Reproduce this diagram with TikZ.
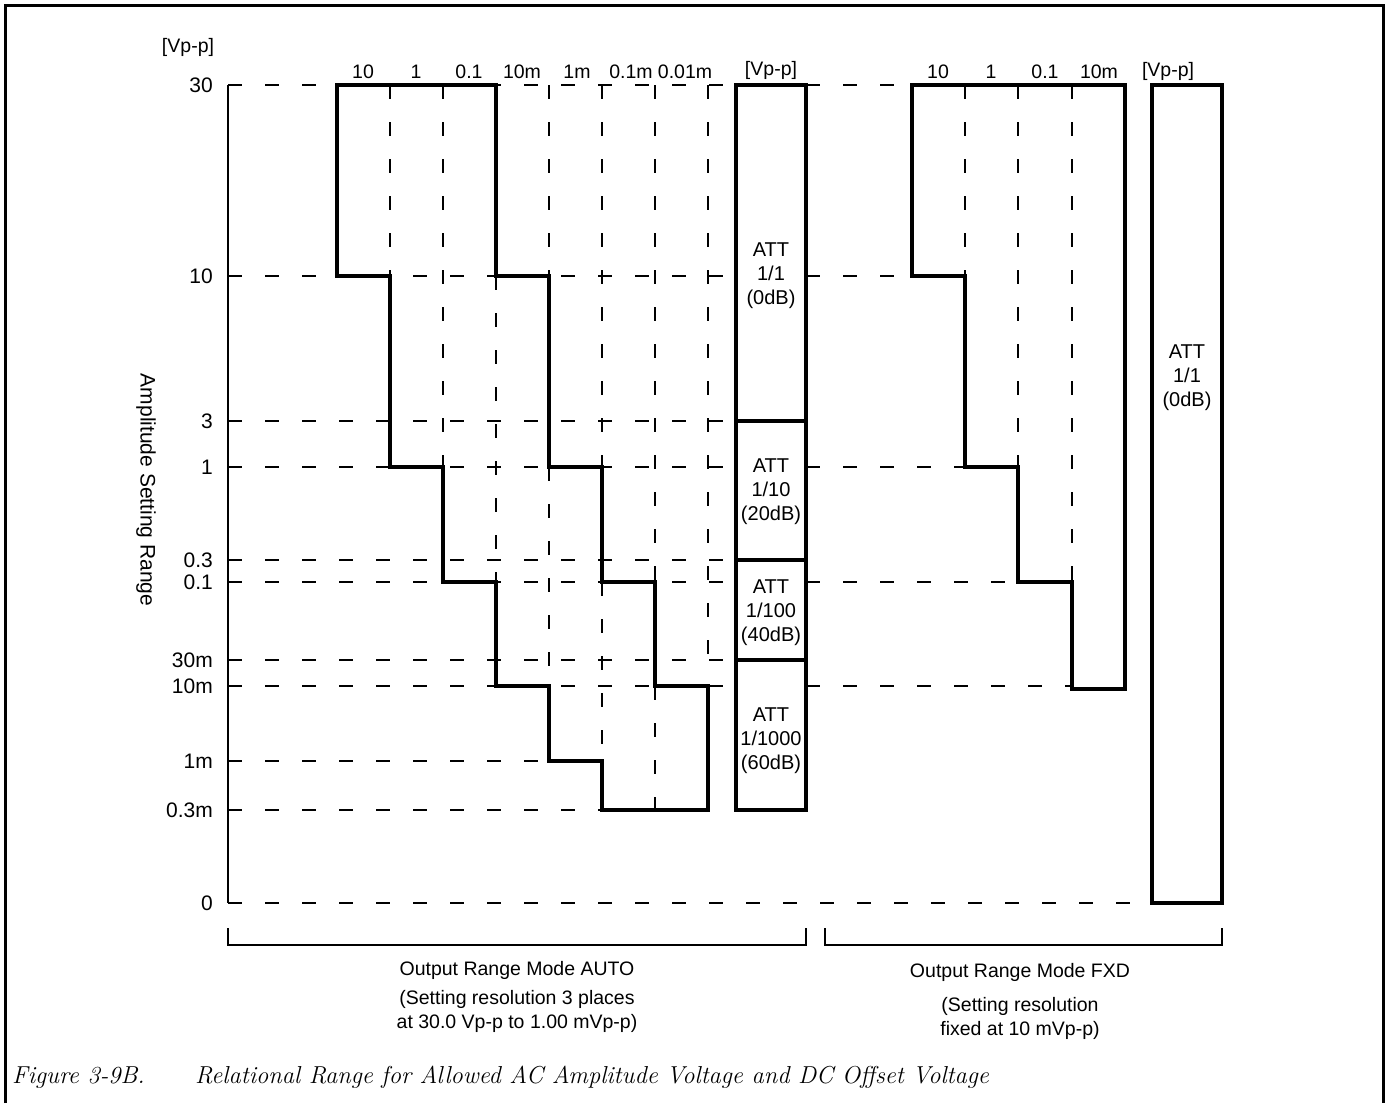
\documentclass[tikz,border=0pt]{standalone}
\usepackage{fontspec}
\setsansfont{Liberation Sans}
\usepackage{tikz}

\begin{document}
\begin{tikzpicture}[x=1pt,y=-1pt,
  every node/.style={font=\sffamily\fontsize{19.5}{24}\selectfont,inner sep=0pt},
  lvl/.style={anchor=east,font=\sffamily\fontsize{21}{24}\selectfont},
  att/.style={align=center,font=\sffamily\fontsize{20}{24}\selectfont},
  note/.style={align=center},
  figcap/.style={font=\itshape\fontsize{24.5}{28}\selectfont,anchor=base west},
  grid/.style={line width=1.5pt,dash pattern=on 14pt off 23pt},
  stair/.style={line width=3.3pt},
  attbox/.style={line width=3.3pt},
  axisline/.style={line width=1.6pt},
  brack/.style={line width=1.4pt}
]
\def\xax{228}                                 % x of the amplitude axis
\def\xbl{736}\def\xbr{806}                    % AUTO attenuator column
\def\xfl{1152}\def\xfr{1222}                  % FXD attenuator column
\useasboundingbox (0,0) rectangle (1386,1103);
\draw[line width=3pt] (5,1103) -- (5,5) -- (1383,5) -- (1383,1103);

% amplitude levels
\foreach \t/\y [count=\i] in {30/85,10/276,3/421,1/467,0.3/560,0.1/582,
                              30m/660,10m/686,1m/761,0.3m/810,0/903}{
  \node[lvl] (lv\i) at (213,\y) {\t};
}
\node (unitA) at (188,47) {[Vp-p]};
\node[rotate=-90,font=\sffamily\fontsize{21}{24}\selectfont] (ytitle) at (146,490) {Amplitude Setting Range};
\draw[axisline] (\xax,85) -- (\xax,903);

% dashed grid
\foreach \y/\xe in {85/\xbl,276/\xbl,421/\xbl,467/\xbl,560/\xbl,582/\xbl,
                    660/\xbl,686/\xbl,761/549,810/602,903/\xfl}{
  \draw[grid] (\xax,\y) -- (\xe,\y);
}
\foreach \y/\xe in {85/912,276/912,467/965,582/1018,686/1072}{
  \draw[grid] (\xbr,\y) -- (\xe,\y);
}
\foreach \x/\ya/\yb in {390/85/276,443/85/467,496/276/582,549/85/276,549/467/686,
                        602/85/467,602/582/761,655/85/582,655/686/810,708/85/660,
                        965/85/276,1018/85/467,1072/85/582}{
  \draw[grid] (\x,\ya) -- (\x,\yb);
}

% column headings
\foreach \t/\x [count=\i] in {10/363,1/416,0.1/469,10m/522,1m/577,0.1m/631,0.01m/685}{
  \node (ca\i) at (\x,72) {\t};
}
\foreach \t/\x [count=\i] in {10/938,1/991,0.1/1045,10m/1099}{
  \node (cf\i) at (\x,72) {\t};
}
\node (unitB) at (771,70) {[Vp-p]};
\node (unitC) at (1168,71) {[Vp-p]};

% setting ranges
\draw[stair] (337,85) -- (496,85) -- (496,276) -- (549,276) -- (549,467) -- (602,467)
  -- (602,582) -- (655,582) -- (655,686) -- (708,686) -- (708,810) -- (602,810)
  -- (602,761) -- (549,761) -- (549,686) -- (496,686) -- (496,582) -- (443,582)
  -- (443,467) -- (390,467) -- (390,276) -- (337,276) -- cycle;
\draw[stair] (912,85) -- (1125,85) -- (1125,689) -- (1072,689) -- (1072,582)
  -- (1018,582) -- (1018,467) -- (965,467) -- (965,276) -- (912,276) -- cycle;

% attenuators
\foreach \ya/\yb in {85/421,421/560,560/660,660/810}{
  \draw[attbox] (\xbl,\ya) rectangle (\xbr,\yb);
}
\draw[attbox] (\xfl,85) rectangle (\xfr,903);
\node[att] (att1)  at (771,276) {ATT\\1/1\\(0dB)};
\node[att] (att2)  at (771,492) {ATT\\1/10\\(20dB)};
\node[att] (att3)  at (771,613) {ATT\\1/100\\(40dB)};
\node[att] (att4)  at (771,741) {ATT\\1/1000\\(60dB)};
\node[att] (attF)  at (1187,378) {ATT\\1/1\\(0dB)};

% range modes
\draw[brack] (\xax,928) -- (\xax,945) -- (\xbr,945) -- (\xbr,928);
\draw[brack] (825,928) -- (825,945) -- (\xfr,945) -- (\xfr,928);
\node (modeA) at (517,970) {Output Range Mode AUTO};
\node[note] (resA) at (517,1011) {(Setting resolution 3 places\\at 30.0 Vp-p to 1.00 mVp-p)};
\node (modeF) at (1020,972) {Output Range Mode FXD};
\node[note] (resF) at (1020,1018) {(Setting resolution\\fixed at 10 mVp-p)};

\node[figcap] (fig) at (12,1083) {Figure 3-9B.};
\node[figcap] (title) at (195,1083) {Relational Range for Allowed AC Amplitude Voltage and DC Offset Voltage};
\end{tikzpicture}
\end{document}
